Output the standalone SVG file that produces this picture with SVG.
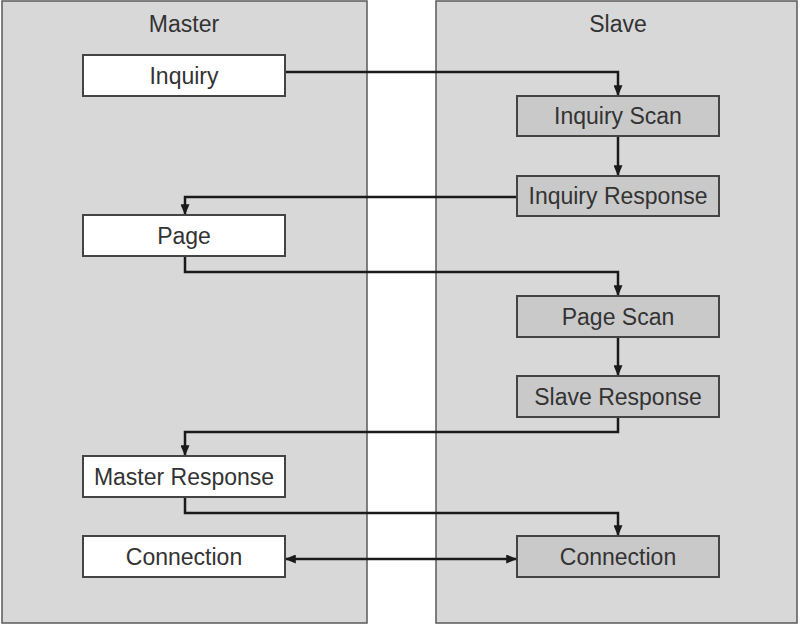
<svg xmlns="http://www.w3.org/2000/svg" width="800" height="625" viewBox="0 0 800 625">
<defs>
<style>
.panel{fill:#d8d8d8;stroke:#5a5a5a;stroke-width:1.5}
.mbox{fill:#ffffff;stroke:#444;stroke-width:2}
.sbox{fill:#c9c9c9;stroke:#444;stroke-width:2}
.lbl{font-family:"Liberation Sans",Arial,sans-serif;font-size:23px;fill:#333;text-anchor:middle}
.conn{fill:none;stroke:#1a1a1a;stroke-width:2.5}
</style>
<marker id="ah" viewBox="0 0 12 10" refX="12" refY="5" markerWidth="12" markerHeight="9" markerUnits="userSpaceOnUse" orient="auto-start-reverse">
<path d="M0,0 L12,5 L0,10 Z" fill="#1a1a1a"/>
</marker>
</defs>
<rect width="800" height="625" fill="#ffffff"/>
<g id="panel-master">
<rect class="panel" x="2" y="1" width="365" height="622"/>
<text class="lbl" x="184" y="32">Master</text>
</g>
<g id="panel-slave">
<rect class="panel" x="436" y="1" width="361" height="622"/>
<text class="lbl" x="618" y="32">Slave</text>
</g>
<g id="connectors">
<path class="conn" d="M285,72 H618 V96" marker-end="url(#ah)"/>
<path class="conn" d="M618,136 V176" marker-end="url(#ah)"/>
<path class="conn" d="M517,197 H185 V215" marker-end="url(#ah)"/>
<path class="conn" d="M185,256 V272 H618 V296" marker-end="url(#ah)"/>
<path class="conn" d="M618,337 V376" marker-end="url(#ah)"/>
<path class="conn" d="M618,417 V432 H185 V456" marker-end="url(#ah)"/>
<path class="conn" d="M185,497 V513 H618 V536" marker-end="url(#ah)"/>
<path class="conn" d="M285,559 H517" marker-start="url(#ah)" marker-end="url(#ah)"/>
</g>
<g id="m-inquiry">
<rect class="mbox" x="83" y="55" width="202" height="41"/>
<text class="lbl" x="184" y="84">Inquiry</text>
</g>
<g id="m-page">
<rect class="mbox" x="83" y="215" width="202" height="41"/>
<text class="lbl" x="184" y="244">Page</text>
</g>
<g id="m-master-response">
<rect class="mbox" x="83" y="456" width="202" height="41"/>
<text class="lbl" x="184" y="485">Master Response</text>
</g>
<g id="m-connection">
<rect class="mbox" x="83" y="536" width="202" height="41"/>
<text class="lbl" x="184" y="565">Connection</text>
</g>
<g id="s-inquiry-scan">
<rect class="sbox" x="517" y="96" width="202" height="40"/>
<text class="lbl" x="618" y="124">Inquiry Scan</text>
</g>
<g id="s-inquiry-response">
<rect class="sbox" x="517" y="176" width="202" height="40"/>
<text class="lbl" x="618" y="204">Inquiry Response</text>
</g>
<g id="s-page-scan">
<rect class="sbox" x="517" y="296" width="202" height="41"/>
<text class="lbl" x="618" y="325">Page Scan</text>
</g>
<g id="s-slave-response">
<rect class="sbox" x="517" y="376" width="202" height="41"/>
<text class="lbl" x="618" y="405">Slave Response</text>
</g>
<g id="s-connection">
<rect class="sbox" x="517" y="536" width="202" height="41"/>
<text class="lbl" x="618" y="565">Connection</text>
</g>
</svg>
